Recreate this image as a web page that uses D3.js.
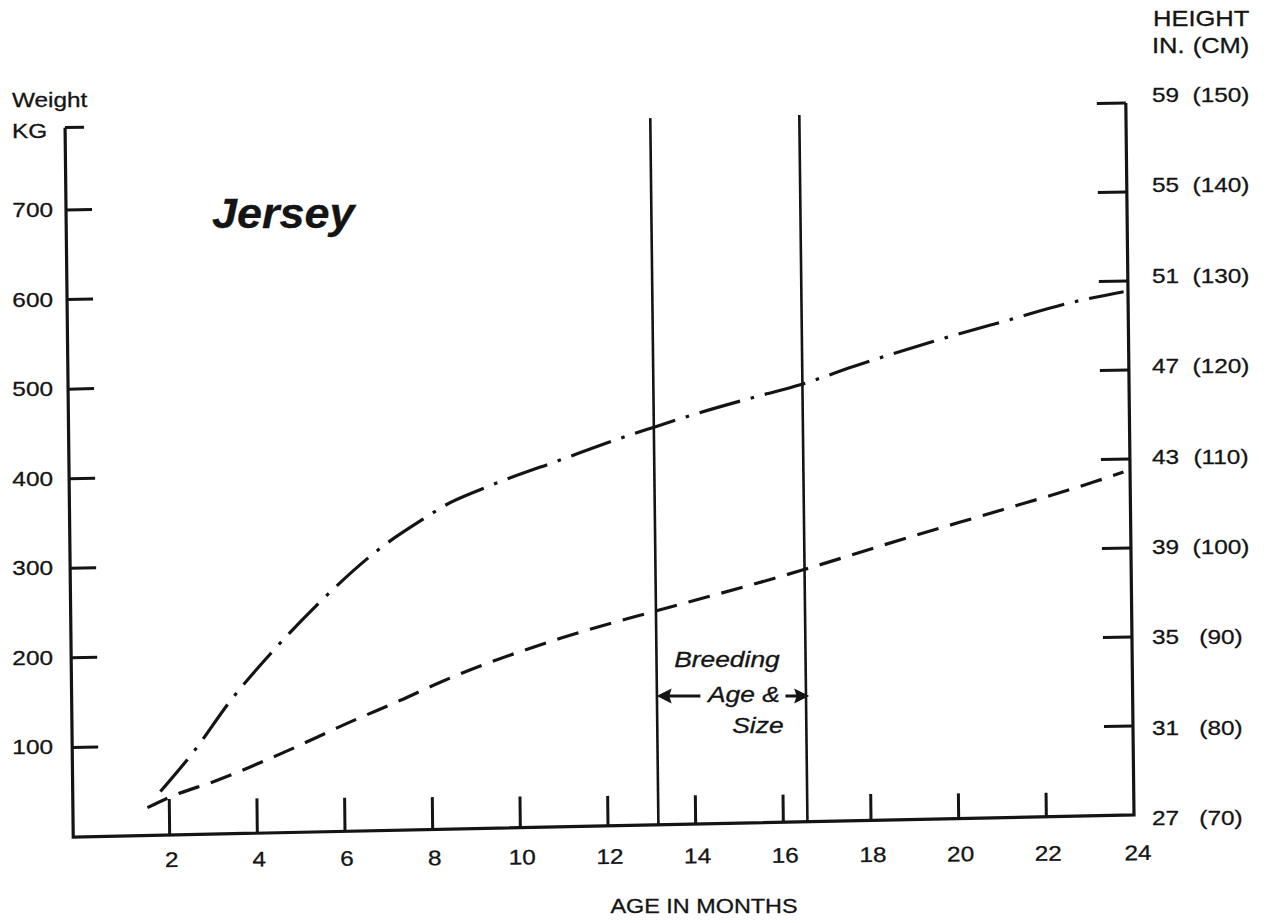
<!DOCTYPE html>
<html><head><meta charset="utf-8">
<script src="https://cdn.jsdelivr.net/npm/d3@7"></script>
<style>
html,body{margin:0;padding:0;background:#fff;}
text{font-family:"Liberation Sans",Arial,Helvetica,sans-serif;fill:#141414;stroke:#141414;stroke-width:0.3px;}
</style></head>
<body><svg id="chart" width="1268" height="923"></svg>
<script>
// ---------------- DATA ----------------
const monthTicks = [2,4,6,8,10,12,14,16,18,20,22];
const monthLabels = ["2","4","6","8","10","12","14","16","18","20","22","24"];
const monthLabelValues = [2,4,6,8,10,12,14,16,18,20,22,24];
const weightTicks = [100,200,300,400,500,600,700];
const weightLabels = ["100","200","300","400","500","600","700"];
const heightTicksCm = [80,90,100,110,120,130,140,150];
const heightLabelCm = [70,80,90,100,110,120,130,140,150];
const heightLabelIn = ["27","31","35","39","43","47","51","55","59"];
const heightLabelCmText = ["(70)","(80)","(90)","(100)","(110)","(120)","(130)","(140)","(150)"];
const breedingWindow = [13.15, 16.55];
const axisTopKg = 792;

// weight curve (dashed), kg vs age in months
const weightAge = [1.5,2.0,3.1,4.6,6.1,7.3,8.2,11.0,13.0,13.9,15.9,16.5,19.0,21.1,23.2,23.85];
const weightKg  = [31,42,60,89,121,145,164,211,237,248,273,281,316,344,373,383];
// height curve (dash-dot), cm vs age in months
const heightAge = [1.8,2.6,3.4,4.4,5.4,6.9,8.0,8.3,9.3,11.0,12.5,13.1,14.2,15.6,16.5,17.7,19.5,21.2,22.7,23.9];
const heightCm  = [74.9,79.5,84.8,90.4,95.4,101.8,105.3,106.2,108.3,111.2,113.7,114.6,116.2,118.0,119.1,121.0,123.6,125.8,127.7,128.8];

// ---------------- SCALES ----------------
const x = d3.scaleLinear().domain([0,24]).range([82,1134]);
const yKg = d3.scaleLinear().domain([0,700]).range([837,210]);
const yCm = d3.scaleLinear().domain([70,150]).range([837,125]);
const rightLabelY = d3.scaleLinear().domain([70,150]).range([825,102]);
const leftAxisMonth = -0.2;

const svg = d3.select("#chart");
svg.append("rect").attr("width",1268).attr("height",923).attr("fill","#fff");

const ink = "#141414";
// drawing group with the slight skew of the scanned original
const b = -0.0208, c = 0.0115, x0 = x(leftAxisMonth), y0 = yKg(0);
const g = svg.append("g")
  .attr("transform", `matrix(1,${b},${c},1,${-c*y0},${-b*x0})`);

const X0 = x(leftAxisMonth), X24 = x(24), Y0 = yKg(0);

// axes
g.append("path").attr("d", d3.line()([[X0,yKg(axisTopKg)],[X0,Y0],[X24,Y0],[X24,yCm(150)]]))
  .attr("fill","none").attr("stroke",ink).attr("stroke-width",3.2).attr("stroke-linejoin","miter");
// left ticks
g.selectAll(".lt").data(weightTicks).join("line")
  .attr("x1",X0).attr("x2",X0+26).attr("y1",d=>yKg(d)).attr("y2",d=>yKg(d))
  .attr("stroke",ink).attr("stroke-width",3);
g.append("line").attr("x1",X0).attr("x2",X0+19).attr("y1",yKg(axisTopKg)).attr("y2",yKg(axisTopKg))
  .attr("stroke",ink).attr("stroke-width",3);
// bottom ticks
g.selectAll(".bt").data(monthTicks).join("line")
  .attr("x1",d=>x(d)).attr("x2",d=>x(d)).attr("y1",Y0).attr("y2",d=>Y0-36+ (d-2)*0.6)
  .attr("stroke",ink).attr("stroke-width",3);
// right ticks
g.selectAll(".rt").data(heightTicksCm).join("line")
  .attr("x1",X24).attr("x2",X24-29).attr("y1",d=>yCm(d)).attr("y2",d=>yCm(d))
  .attr("stroke",ink).attr("stroke-width",3);

// breeding window vertical lines
g.selectAll(".bw").data(breedingWindow).join("line")
  .attr("x1",d=>x(d)).attr("x2",d=>x(d)).attr("y1",Y0).attr("y2",yKg(axisTopKg-3))
  .attr("stroke",ink).attr("stroke-width",2.6);

// curves
const wLine = d3.line().x(d=>x(d[0])).y(d=>yKg(d[1])).curve(d3.curveMonotoneX);
const hLine = d3.line().x(d=>x(d[0])).y(d=>yCm(d[1])).curve(d3.curveMonotoneX);
g.append("path").datum(weightAge.map((a,i)=>[a,weightKg[i]])).attr("d",wLine)
  .attr("fill","none").attr("stroke",ink).attr("stroke-width",3.2).attr("stroke-dasharray","22,12");
g.append("path").datum(heightAge.map((a,i)=>[a,heightCm[i]])).attr("d",hLine)
  .attr("fill","none").attr("stroke",ink).attr("stroke-width",3.2).attr("stroke-dasharray","42,11,3.5,11");

// ---------------- TEXT ----------------
const sx = 1.16;
function stext(parent, px, py, str, size, anchor, opts={}) {
  const t = parent.append("text")
    .attr("transform", `translate(${px},${py}) scale(${opts.sx||sx},1)`)
    .attr("text-anchor", anchor).attr("font-size", size).text(str);
  if (opts.style) t.attr("font-style", opts.style);
  if (opts.weight) t.attr("font-weight", opts.weight);
  return t;
}
const tg = svg.append("g");
stext(tg, 12, 107, "Weight", 21, "start");
stext(tg, 12, 138, "KG", 21, "start");
weightTicks.forEach((v,i)=> stext(tg, 53, yKg(v)+7, weightLabels[i], 21, "end"));

stext(tg, 1153, 26, "HEIGHT", 22, "start");
stext(tg, 1152, 53, "IN.", 22, "start");
stext(tg, 1221, 53, "(CM)", 22, "middle");
heightLabelCm.forEach((v,i)=>{
  stext(tg, 1152, rightLabelY(v), heightLabelIn[i], 21, "start");
  stext(tg, 1221, rightLabelY(v), heightLabelCmText[i], 21, "middle");
});

const bg = svg.append("g").attr("transform", `rotate(-0.41, ${x(2)}, 867)`);
monthLabelValues.forEach((v,i)=> stext(bg, x(v)+ (v===24?4:2), 867, monthLabels[i], 21, "middle"));

stext(tg, 704, 913, "AGE IN MONTHS", 20, "middle", {sx:1.17});
stext(tg, 212, 228, "Jersey", 42, "start", {style:"italic", weight:"bold", sx:1.07});

// breeding annotation
const bl = x(breedingWindow[0]), br = x(breedingWindow[1]), bm = (bl+br)/2;
stext(tg, bm-6, 667, "Breeding", 22, "middle", {style:"italic", sx:1.2});
stext(tg, bm+11, 702, "Age &", 22, "middle", {style:"italic", sx:1.2});
stext(tg, bm+25, 733, "Size", 22, "middle", {style:"italic", sx:1.2});
const ay = 696;
tg.append("line").attr("x1",bl+8).attr("x2",bl+42).attr("y1",ay).attr("y2",ay).attr("stroke",ink).attr("stroke-width",3);
tg.append("path").attr("d",`M${bl},${ay} L${bl+12},${ay-6} L${bl+10},${ay} L${bl+12},${ay+6} Z`).attr("fill",ink).attr("stroke",ink).attr("stroke-width",1.5);
tg.append("line").attr("x1",br-22).attr("x2",br-8).attr("y1",ay).attr("y2",ay).attr("stroke",ink).attr("stroke-width",3);
tg.append("path").attr("d",`M${br},${ay} L${br-12},${ay-6} L${br-10},${ay} L${br-12},${ay+6} Z`).attr("fill",ink).attr("stroke",ink).attr("stroke-width",1.5);
</script></body></html>
